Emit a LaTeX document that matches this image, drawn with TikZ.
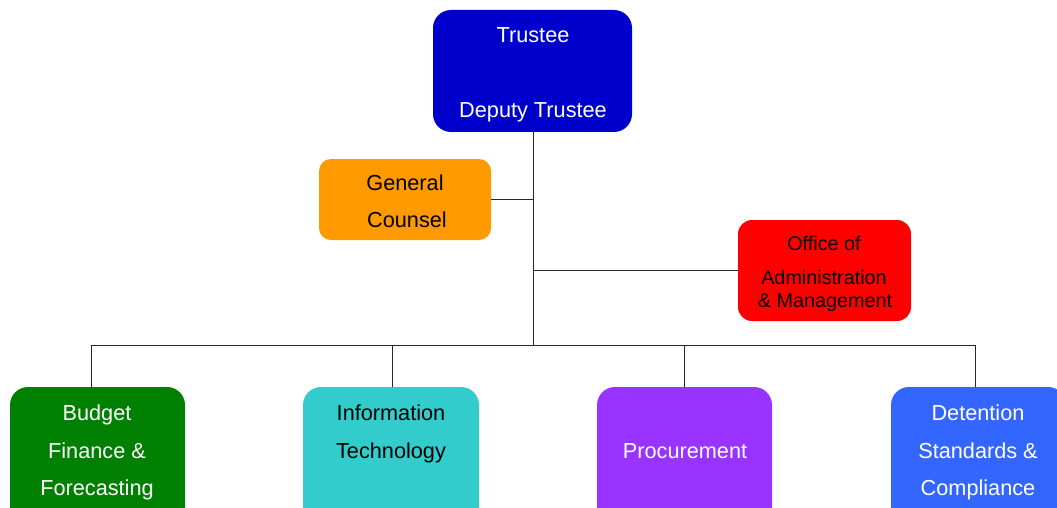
\documentclass[tikz,border=0pt]{standalone}
\usepackage{fontspec}
\setmainfont{Liberation Sans}
\definecolor{trusteeblue}{HTML}{0000CC}
\definecolor{counselorange}{HTML}{FF9900}
\definecolor{officered}{HTML}{FF0000}
\definecolor{budgetgreen}{HTML}{008000}
\definecolor{itcyan}{HTML}{33CCCC}
\definecolor{procpurple}{HTML}{9933FF}
\definecolor{detblue}{HTML}{3366FF}
\begin{document}
\begin{tikzpicture}[x=1pt,y=-1pt,
  unitbox/.style={rectangle,rounded corners=#1,inner sep=0pt,draw=none},
  unitbox/.default=16pt,
  lbl/.style={inner sep=0pt,font=\fontsize{21.7}{24}\selectfont,anchor=base},
  lblsm/.style={inner sep=0pt,font=\fontsize{19.8}{23}\selectfont,anchor=base},
  wire/.style={draw=black!85,line width=0.9pt}]
\useasboundingbox (0,0) rectangle (1057,508);
\clip (0,0) rectangle (1057,508);
% boxes
\node[unitbox=18pt,fill=trusteeblue,minimum width=199pt,minimum height=122pt] (trustee) at (532.5,71) {};
\node[unitbox=12pt,fill=counselorange,minimum width=172pt,minimum height=81pt] (counsel) at (405,199.5) {};
\node[unitbox=14pt,fill=officered,minimum width=173pt,minimum height=101pt] (office) at (824.5,270.5) {};
\node[unitbox=18pt,fill=budgetgreen,minimum width=175pt,minimum height=140pt] (budget) at (97.5,457) {};
\node[unitbox=18pt,fill=itcyan,minimum width=176pt,minimum height=140pt] (it) at (391,457) {};
\node[unitbox=18pt,fill=procpurple,minimum width=175pt,minimum height=140pt] (proc) at (684.5,457) {};
\node[unitbox=18pt,fill=detblue,minimum width=175pt,minimum height=140pt] (detention) at (978.5,457) {};
% labels
\node[lbl,text=white] (t1) at (533,43) {Trustee};
\node[lbl,text=white] (t2) at (533,118) {Deputy Trustee};
\node[lbl] (c1) at (405,190) {General};
\node[lbl] (c2) at (407,227) {Counsel};
\node[lblsm] (o1) at (824,250) {Office of};
\node[lblsm] (o2) at (824,284) {Administration};
\node[lblsm] (o3) at (825,307) {\& Management};
\node[lbl,text=white] (b1) at (97,420) {Budget};
\node[lbl,text=white] (b2) at (97,458) {Finance \&};
\node[lbl,text=white] (b3) at (97,495) {Forecasting};
\node[lbl] (i1) at (391,420) {Information};
\node[lbl] (i2) at (391,458) {Technology};
\node[lbl,text=white] (p1) at (685,458) {Procurement};
\node[lbl,text=white] (d1) at (978,420) {Detention};
\node[lbl,text=white] (d2) at (978,458) {Standards \&};
\node[lbl,text=white] (d3) at (978,495) {Compliance};
% connectors
\coordinate (hub) at (533,345);
\coordinate (busL) at (91,345);
\coordinate (busR) at (975,345);
\coordinate (itTop) at (392,345);
\coordinate (procTop) at (684,345);
\draw[wire] (trustee.south -| hub) -- (hub);
\draw[wire] (counsel.east) -- (counsel.east -| hub);
\draw[wire] (office.west) -- (office.west -| hub);
\draw[wire] (busL) -- (busR);
\draw[wire] (busL) -- (busL |- budget.north);
\draw[wire] (itTop) -- (itTop |- it.north);
\draw[wire] (procTop) -- (procTop |- proc.north);
\draw[wire] (busR) -- (busR |- detention.north);
\end{tikzpicture}
\end{document}
